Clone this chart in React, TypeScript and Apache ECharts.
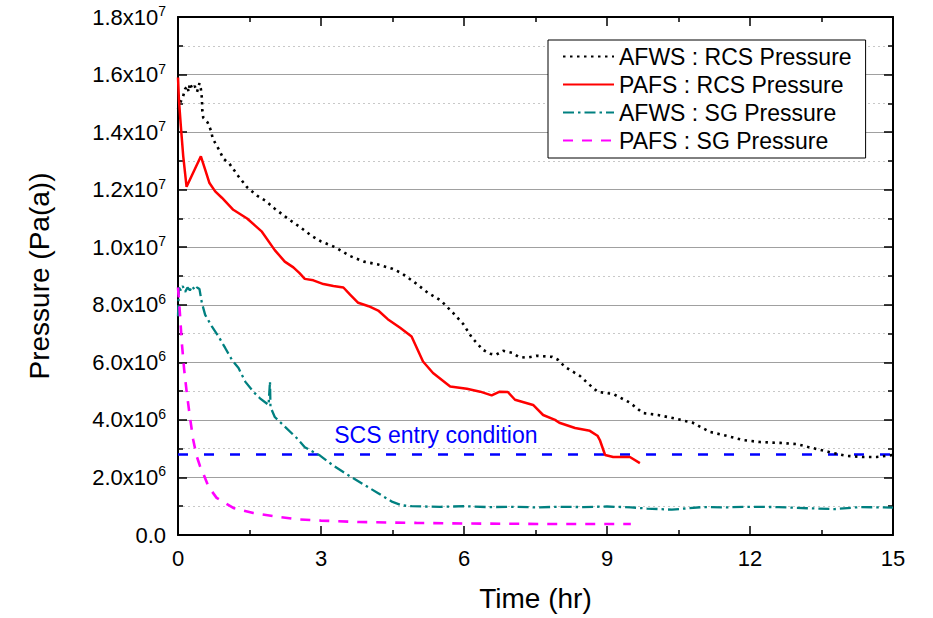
import React, { useEffect, useRef } from "react";
import * as echarts from "echarts";

const FONT = "'Liberation Sans', Arial, Helvetica, sans-serif";

// Time axis (hr) and pressure axis (Pa)
const xTicks = [0, 3, 6, 9, 12, 15];
const yMax = 1.8e7;

// AFWS : RCS Pressure
const afwsRcsT = [0, 0.04, 0.1, 0.15, 0.2, 0.22, 0.25, 0.3, 0.35, 0.4, 0.45, 0.48, 0.5, 0.51, 0.53, 0.62, 0.69, 0.73, 0.87, 0.95, 1.08, 1.27, 1.45, 1.66, 1.83, 2.03, 2.3, 2.56, 2.8, 3.0, 3.3, 3.6, 3.9, 4.2, 4.5, 4.69, 4.97, 5.24, 5.52, 5.77, 5.98, 6.17, 6.4, 6.55, 6.67, 6.82, 7.01, 7.15, 7.32, 7.53, 7.85, 7.97, 8.12, 8.43, 8.68, 8.81, 9.13, 9.48, 9.75, 10.07, 10.47, 10.8, 11.16, 11.43, 11.85, 12.21, 12.63, 12.98, 13.22, 13.47, 13.74, 14.03, 14.37, 14.66, 15.0];
const afwsRcsP = [1.48e7, 1.5e7, 1.52e7, 1.55e7, 1.56e7, 1.54e7, 1.57e7, 1.55e7, 1.56e7, 1.54e7, 1.57e7, 1.55e7, 1.52e7, 1.475e7, 1.45e7, 1.434e7, 1.406e7, 1.377e7, 1.336e7, 1.308e7, 1.29e7, 1.246e7, 1.208e7, 1.179e7, 1.162e7, 1.134e7, 1.1e7, 1.07e7, 1.04e7, 1.02e7, 1.0e7, 9.7e6, 9.5e6, 9.4e6, 9.25e6, 9.1e6, 8.77e6, 8.42e6, 8.14e6, 7.72e6, 7.34e6, 6.85e6, 6.43e6, 6.3e6, 6.26e6, 6.4e6, 6.33e6, 6.19e6, 6.16e6, 6.23e6, 6.19e6, 6.09e6, 5.84e6, 5.53e6, 5.15e6, 4.97e6, 4.9e6, 4.6e6, 4.24e6, 4.17e6, 4.03e6, 3.9e6, 3.58e6, 3.48e6, 3.3e6, 3.23e6, 3.2e6, 3.16e6, 3.06e6, 2.96e6, 2.85e6, 2.75e6, 2.71e6, 2.71e6, 2.78e6];

// PAFS : RCS Pressure
const pafsRcsT = [0, 0.02, 0.06, 0.11, 0.18, 0.48, 0.57, 0.66, 0.78, 0.92, 1.16, 1.45, 1.76, 2.03, 2.24, 2.42, 2.55, 2.66, 2.84, 3.05, 3.26, 3.47, 3.61, 3.78, 4.0, 4.2, 4.4, 4.66, 4.9, 5.14, 5.35, 5.71, 6.06, 6.34, 6.58, 6.75, 6.92, 7.07, 7.45, 7.66, 7.91, 8.0, 8.33, 8.64, 8.8, 8.85, 8.96, 9.13, 9.48, 9.69];
const pafsRcsP = [1.59e7, 1.51e7, 1.42e7, 1.316e7, 1.21e7, 1.316e7, 1.27e7, 1.223e7, 1.194e7, 1.172e7, 1.13e7, 1.1e7, 1.054e7, 9.9e6, 9.5e6, 9.3e6, 9.1e6, 8.9e6, 8.85e6, 8.72e6, 8.65e6, 8.6e6, 8.35e6, 8.07e6, 7.95e6, 7.8e6, 7.5e6, 7.2e6, 6.9e6, 6.03e6, 5.63e6, 5.16e6, 5.08e6, 4.98e6, 4.85e6, 4.98e6, 4.97e6, 4.7e6, 4.52e6, 4.17e6, 4.0e6, 3.9e6, 3.72e6, 3.62e6, 3.45e6, 3.3e6, 2.78e6, 2.71e6, 2.71e6, 2.5e6];

// AFWS : SG Pressure
const afwsSgT = [0, 0.02, 0.06, 0.1, 0.15, 0.2, 0.25, 0.3, 0.35, 0.4, 0.45, 0.5, 0.57, 0.71, 0.85, 0.99, 1.13, 1.27, 1.41, 1.58, 1.72, 1.9, 1.93, 1.94, 2.03, 2.24, 2.49, 2.66, 2.98, 3.25, 3.6, 3.9, 4.2, 4.5, 4.7, 4.9, 5.5, 6.0, 6.5, 7.0, 7.5, 8.0, 8.5, 9.0, 9.5, 9.84, 10.36, 11.0, 11.5, 12.0, 12.6, 13.2, 13.78, 14.3, 14.8, 15.0];
const afwsSgP = [7.6e6, 8.6e6, 8.5e6, 8.65e6, 8.45e6, 8.6e6, 8.5e6, 8.65e6, 8.5e6, 8.6e6, 8.55e6, 8.07e6, 7.65e6, 7.25e6, 6.9e6, 6.5e6, 6.09e6, 5.8e6, 5.33e6, 4.98e6, 4.75e6, 4.52e6, 5.33e6, 4.45e6, 4.1e6, 3.77e6, 3.37e6, 3.05e6, 2.76e6, 2.42e6, 2.05e6, 1.75e6, 1.45e6, 1.15e6, 1.03e6, 1.0e6, 0.98e6, 1.0e6, 0.97e6, 0.98e6, 0.96e6, 0.98e6, 0.97e6, 0.99e6, 0.96e6, 0.92e6, 0.88e6, 0.97e6, 0.96e6, 0.98e6, 0.97e6, 0.93e6, 0.9e6, 0.97e6, 0.96e6, 0.95e6];

// PAFS : SG Pressure
const pafsSgT = [0, 0.04, 0.08, 0.13, 0.18, 0.25, 0.32, 0.39, 0.46, 0.5, 0.64, 0.81, 1.16, 1.58, 2.07, 2.49, 3.0, 3.8, 5.0, 6.0, 7.0, 8.0, 9.0, 9.5];
const pafsSgP = [8.6e6, 7.7e6, 6.68e6, 5.74e6, 5.0e6, 4.1e6, 3.3e6, 2.75e6, 2.4e6, 2.26e6, 1.68e6, 1.29e6, 9.4e5, 7.65e5, 6.4e5, 5.46e5, 5.0e5, 4.5e5, 4.2e5, 4.0e5, 3.9e5, 3.8e5, 3.8e5, 3.8e5];

// SCS entry condition
const scsT = [0, 15];
const scsP = [2.8e6, 2.8e6];
const scsLabel = "SCS entry condition";
const scsLabelPos = [5.41, 3.48e6];

const seriesNames = [
  "AFWS : RCS Pressure",
  "PAFS : RCS Pressure",
  "AFWS : SG Pressure",
  "PAFS : SG Pressure",
];

const zip = (t: number[], p: number[]) => t.map((v, i) => [v, p[i]]);

function yLabel(v: number): string {
  if (v === 0) return "0.0";
  const e = Math.floor(Math.log10(v) + 1e-9);
  const m = v / Math.pow(10, e);
  return `${m.toFixed(1)}x10{sup|${e}}`;
}

export default function App() {
  const ref = useRef<HTMLDivElement>(null);
  useEffect(() => {
    if (!ref.current) return;
    const chart = echarts.init(ref.current, undefined, { renderer: "svg" });
    const axisLineStyle = { color: "#000", width: 2 };
    const xBase = {
      type: "value" as const,
      min: xTicks[0],
      max: xTicks[xTicks.length - 1],
      interval: 3,
      axisLine: { show: true, onZero: false, lineStyle: axisLineStyle },
      axisTick: { show: true, inside: true, length: 9, lineStyle: { color: "#000", width: 1.5 } },
      minorTick: { show: true, splitNumber: 2, length: 5, lineStyle: { color: "#000", width: 1.5 } },
      splitLine: { show: false },
    };
    const yBase = {
      type: "value" as const,
      min: 0,
      max: yMax,
      interval: 2e6,
      axisLine: { show: true, onZero: false, lineStyle: axisLineStyle },
      axisTick: { show: true, inside: true, length: 9, lineStyle: { color: "#000", width: 1.5 } },
      minorTick: { show: true, splitNumber: 2, length: 5, lineStyle: { color: "#000", width: 1.5 } },
    };
    chart.setOption({
      animation: false,
      backgroundColor: "#fff",
      textStyle: { fontFamily: FONT },
      grid: { left: 178, right: 40, top: 17, bottom: 83, containLabel: false },
      legend: {
        orient: "vertical",
        left: 548,
        top: 40,
        data: seriesNames,
        itemWidth: 51,
        itemHeight: 14,
        itemGap: 5,
        padding: [5, 14, 6, 14],
        backgroundColor: "#fff",
        borderColor: "#000",
        borderWidth: 1,
        borderRadius: 0,
        itemStyle: { opacity: 0, borderWidth: 0 },
        textStyle: { fontSize: 23, color: "#000", fontFamily: FONT },
      },
      xAxis: [
        {
          ...xBase,
          position: "bottom",
          name: "Time (hr)",
          nameLocation: "middle",
          nameGap: 49,
          nameTextStyle: { fontSize: 28, color: "#000", fontFamily: FONT },
          axisLabel: { fontSize: 22, color: "#000", margin: 12, fontFamily: FONT },
        },
        { ...xBase, position: "top", axisLabel: { show: false } },
      ],
      yAxis: [
        {
          ...yBase,
          position: "left",
          name: "Pressure (Pa(a))",
          nameLocation: "middle",
          nameGap: 125,
          nameTextStyle: { fontSize: 28, color: "#000", fontFamily: FONT },
          axisLabel: {
            fontSize: 22,
            color: "#000",
            margin: 12,
            lineHeight: 26,
            fontFamily: FONT,
            formatter: yLabel,
            rich: {
              sup: { fontSize: 14, lineHeight: 13, verticalAlign: "top", color: "#000", fontFamily: FONT },
            },
          },
          splitLine: { show: true, lineStyle: { color: "#a0a0a0", width: 1.2, type: "solid" } },
          minorSplitLine: { show: true, lineStyle: { color: "#c8c8c8", width: 1, type: [2, 3] } },
        },
        { ...yBase, position: "right", axisLabel: { show: false }, splitLine: { show: false } },
      ],
      series: [
        {
          name: seriesNames[0],
          type: "line",
          data: zip(afwsRcsT, afwsRcsP),
          showSymbol: false,
          symbol: "none",
          lineStyle: { color: "#000", width: 2.6, type: [2.5, 4.5] },
          itemStyle: { color: "#000" },
          z: 4,
        },
        {
          name: seriesNames[1],
          type: "line",
          data: zip(pafsRcsT, pafsRcsP),
          showSymbol: false,
          symbol: "none",
          lineStyle: { color: "#ff0000", width: 2.5, type: "solid" },
          itemStyle: { color: "#ff0000" },
          z: 4,
        },
        {
          name: seriesNames[2],
          type: "line",
          data: zip(afwsSgT, afwsSgP),
          showSymbol: false,
          symbol: "none",
          lineStyle: { color: "#008080", width: 2.3, type: [11, 4, 2.5, 4] },
          itemStyle: { color: "#008080" },
          z: 4,
        },
        {
          name: seriesNames[3],
          type: "line",
          data: zip(pafsSgT, pafsSgP),
          showSymbol: false,
          symbol: "none",
          lineStyle: { color: "#ff00ff", width: 2.6, type: [10, 9] },
          itemStyle: { color: "#ff00ff" },
          z: 4,
        },
        {
          name: "SCS",
          type: "line",
          data: zip(scsT, scsP),
          showSymbol: false,
          symbol: "none",
          lineStyle: { color: "#0000ff", width: 2.5, type: [10, 16] },
          itemStyle: { color: "#0000ff" },
          z: 3,
          markPoint: {
            symbol: "circle",
            symbolSize: 0,
            silent: true,
            label: {
              show: true,
              position: "inside",
              formatter: scsLabel,
              color: "#0000ff",
              fontSize: 23,
              fontFamily: FONT,
            },
            data: [{ coord: scsLabelPos }],
          },
        },
      ],
    });
    return () => chart.dispose();
  }, []);
  return (
    <div
      ref={ref}
      style={{ position: "fixed", left: 0, top: 0, width: 933, height: 618, background: "#fff" }}
    />
  );
}
